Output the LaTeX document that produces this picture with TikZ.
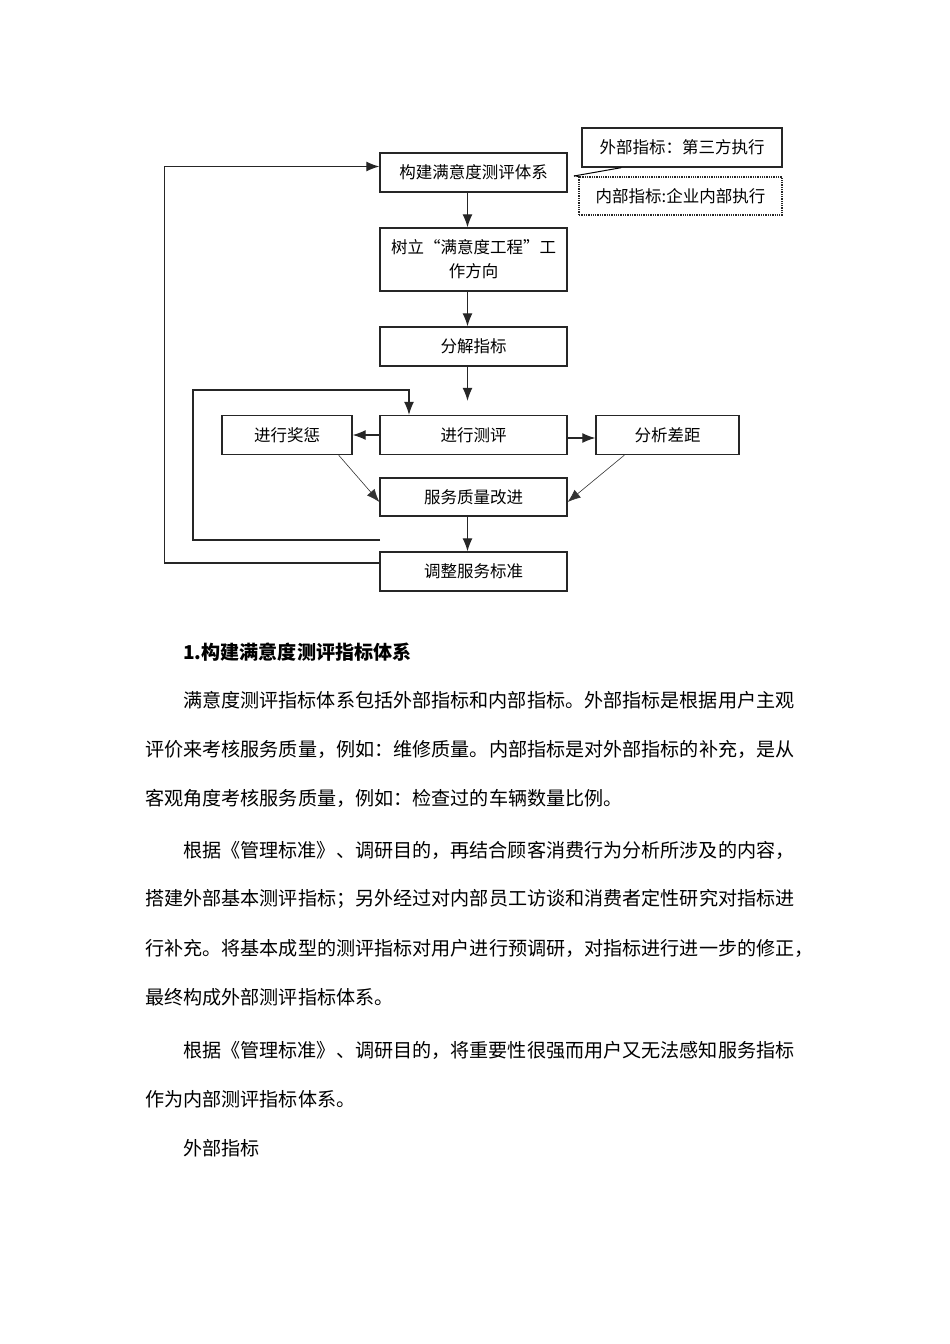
\documentclass[tikz,border=0pt]{standalone}
\usepackage{fontspec}
\setmainfont{Noto Sans CJK SC}
\usetikzlibrary{arrows.meta}

\tikzset{
  box/.style={draw=black!85,line width=1.3pt,inner sep=0pt,minimum height=39pt,minimum width=187pt,font=\fontsize{16.5pt}{24pt}\selectfont},
  dotbox/.style={box,densely dotted,line width=1.8pt},
  arr/.style={line width=1.2pt,draw=black!85,-{Latex[length=13pt,width=10pt]}},
  thinarr/.style={line width=0.6pt,draw=black!80,-{Latex[length=13pt,width=10pt]}},
  txt/.style={anchor=west,inner sep=0pt,font=\fontsize{19.1pt}{23pt}\selectfont}
}

\begin{document}
\begin{tikzpicture}[x=1pt,y=-1pt]
\useasboundingbox (0,0) rectangle (950,1344);
% boxes
\node[box] (build) at (473.5,172.5) {构建满意度测评体系};
\node[box,minimum width=200pt] (ext) at (682,147.5) {外部指标：第三方执行};
\node[dotbox,minimum width=203pt,minimum height=38pt] (int) at (680.5,196) {内部指标:企业内部执行};
\node[box,minimum height=63pt,align=center] (dir) at (473.5,259.5) {树立“满意度工程”工\\作方向};
\node[box] (split) at (473.5,346.5) {分解指标};
\node[box] (eval) at (473.5,435) {进行测评};
\node[box,minimum width=130pt] (reward) at (287,435) {进行奖惩};
\node[box,minimum width=143pt] (gap) at (667.5,435) {分析差距};
\node[box,minimum height=38pt] (improve) at (473.5,497) {服务质量改进};
\node[box] (adjust) at (473.5,571.5) {调整服务标准};
% connectors
\coordinate (brk) at (574,176);
\draw[line width=1pt] (brk) -- ([xshift=40]ext.south west);
\draw[line width=1.4pt,densely dotted] (brk) -- (int.north west);
\draw[arr] ([xshift=-6]build.south) -- ([xshift=-6]dir.north);
\draw[arr] ([xshift=-6]dir.south) -- ([xshift=-6]split.north);
\draw[arr] ([xshift=-6]split.south) -- ([xshift=-6,yshift=14]eval.north);
\draw[arr] (eval.west) -- (reward.east);
\draw[arr] ([yshift=-3]eval.east) -- ([yshift=-3]gap.west);
\draw[thinarr] ([xshift=-14]reward.south east) -- ([yshift=-5]improve.west);
\draw[thinarr] ([xshift=29]gap.south west) -- ([yshift=-5]improve.east);
\draw[arr] ([xshift=-6]improve.south) -- ([xshift=-6]adjust.north);
\coordinate (loop) at (380,540);
\draw[arr] (loop) -- (193,540) |- (409,390) -- ([xshift=-64.5]eval.north);
\draw[arr] ([yshift=8.5]adjust.west) -- ++(-215,0) |- ([yshift=6]build.west);
% text
\node[txt] (head) at (183,652) {\bfseries 1.构建满意度测评指标体系};
\node[txt] (p1a) at (183,700) {满意度测评指标体系包括外部指标和内部指标。外部指标是根据用户主观};
\node[txt] (p1b) at (145,749) {评价来考核服务质量，例如：维修质量。内部指标是对外部指标的补充，是从};
\node[txt] (p1c) at (145,798) {客观角度考核服务质量，例如：检查过的车辆数量比例。};
\node[txt] (p2a) at (183,850) {根据《管理标准》、调研目的，再结合顾客消费行为分析所涉及的内容，};
\node[txt] (p2b) at (145,899) {搭建外部基本测评指标；另外经过对内部员工访谈和消费者定性研究对指标进};
\node[txt] (p2c) at (145,948) {行补充。将基本成型的测评指标对用户进行预调研，对指标进行进一步的修正，};
\node[txt] (p2d) at (145,997) {最终构成外部测评指标体系。};
\node[txt] (p3a) at (183,1050) {根据《管理标准》、调研目的，将重要性很强而用户又无法感知服务指标};
\node[txt] (p3b) at (145,1099) {作为内部测评指标体系。};
\node[txt] (p4a) at (183,1148) {外部指标};
\end{tikzpicture}
\end{document}
